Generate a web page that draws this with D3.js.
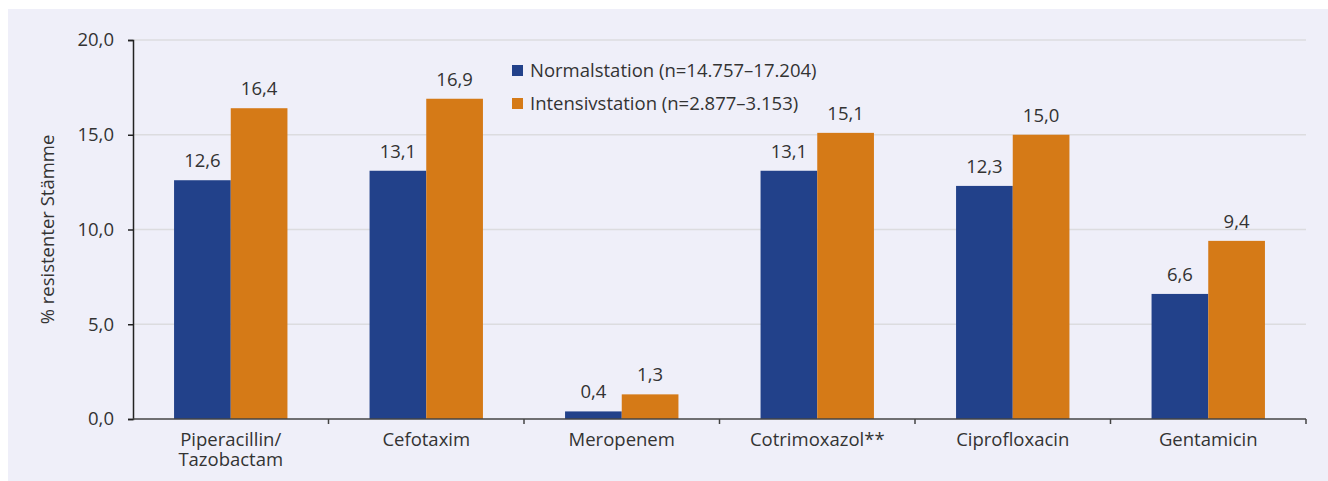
<!DOCTYPE html>
<html>
<head>
<meta charset="utf-8">
<script src="https://cdn.jsdelivr.net/npm/d3@7"></script>
<style>
  html, body { margin: 0; padding: 0; background: #ffffff; }
  svg { display: block; }
  text { font-family: "Open Sans", "Noto Sans", sans-serif; fill: #333333; }
</style>
</head>
<body>
<svg id="chart" width="1328" height="481"></svg>
<script>
// Resistance rates (%) per antibiotic, normal ward vs. intensive care
const categories = ["Piperacillin/\nTazobactam", "Cefotaxim", "Meropenem", "Cotrimoxazol**", "Ciprofloxacin", "Gentamicin"];
const normalstation = [12.6, 13.1, 0.4, 13.1, 12.3, 6.6];
const intensivstation = [16.4, 16.9, 1.3, 15.1, 15.0, 9.4];
const seriesNames = ["Normalstation (n=14.757–17.204)", "Intensivstation (n=2.877–3.153)"];
const seriesColors = ["#22418a", "#d57a17"];
const yTicks = [0, 5, 10, 15, 20];
const yTitle = "% resistenter Stämme";

const FS = 18.5;
const svg = d3.select("#chart");
const W = 1328, H = 481;
const margin = { left: 133, right: 22, top: 40, bottom: 62 };
const plotW = W - margin.left - margin.right;
const plotH = H - margin.top - margin.bottom;

// panel background
svg.append("rect").attr("x", 8).attr("y", 9).attr("width", W - 8).attr("height", H - 9).attr("fill", "#efeff9");

const g = svg.append("g").attr("transform", `translate(${margin.left},${margin.top})`);

const fmt = v => d3.format(".1f")(v).replace(".", ",");

const x0 = d3.scaleBand().domain(d3.range(categories.length)).range([0, plotW]).padding(0);
const x1 = d3.scaleBand().domain([0, 1]).range([x0.bandwidth() * 0.21, x0.bandwidth() * 0.79]).padding(0);
const y = d3.scaleLinear().domain([0, 20]).range([plotH, 0]);

// gridlines
g.append("g").selectAll("line").data(yTicks.filter(t => t > 0)).join("line")
  .attr("x1", 0).attr("x2", plotW)
  .attr("y1", d => y(d)).attr("y2", d => y(d))
  .attr("stroke", "#dcdcdf").attr("stroke-width", 1.5);

// bars
const rows = categories.map((c, i) => [normalstation[i], intensivstation[i]]);
const groups = g.append("g").selectAll("g").data(rows).join("g")
  .attr("transform", (d, i) => `translate(${x0(i)},0)`);
groups.selectAll("rect").data(d => d).join("rect")
  .attr("x", (d, j) => x1(j))
  .attr("width", x1.bandwidth())
  .attr("y", d => y(d))
  .attr("height", d => plotH - y(d))
  .attr("fill", (d, j) => seriesColors[j]);
groups.selectAll("text").data(d => d).join("text")
  .attr("x", (d, j) => x1(j) + x1.bandwidth() / 2)
  .attr("y", d => y(d) - 13)
  .attr("text-anchor", "middle")
  .attr("font-size", FS)
  .text(d => fmt(d));

// y axis
const yAxis = d3.axisLeft(y).tickValues(yTicks).tickSize(5).tickPadding(14).tickFormat(fmt);
const ya = g.append("g").call(yAxis);
ya.select(".domain").attr("stroke", "#222").attr("stroke-width", 1.5);
ya.selectAll(".tick line").attr("stroke", "#222").attr("stroke-width", 1.5);
ya.selectAll(".tick text").attr("font-size", FS).attr("fill", "#333").style("font-family", "'Open Sans', 'Noto Sans', sans-serif");

// x axis: baseline with ticks at category boundaries
const xa = g.append("g").attr("transform", `translate(0,${plotH})`);
xa.append("line").attr("x1", 0).attr("x2", plotW).attr("stroke", "#444").attr("stroke-width", 1.5);
xa.selectAll("line.tk").data(d3.range(1, categories.length + 1)).join("line")
  .attr("class", "tk")
  .attr("x1", i => i < categories.length ? x0(i) : plotW).attr("x2", i => i < categories.length ? x0(i) : plotW)
  .attr("y1", 0).attr("y2", 5)
  .attr("stroke", "#444").attr("stroke-width", 1.5);
categories.forEach((c, i) => {
  c.split("\n").forEach((line, k) => {
    xa.append("text")
      .attr("x", x0(i) + x0.bandwidth() / 2)
      .attr("y", 27 + k * 19.5)
      .attr("text-anchor", "middle")
      .attr("font-size", FS)
      .text(line);
  });
});

// y title
svg.append("text")
  .attr("transform", `translate(54,${margin.top + plotH / 2}) rotate(-90)`)
  .attr("text-anchor", "middle")
  .attr("font-size", FS)
  .text(yTitle);

// legend
const lg = svg.append("g").attr("transform", "translate(512,65)");
const li = lg.selectAll("g").data(seriesNames).join("g")
  .attr("transform", (d, i) => `translate(0,${i * 33})`);
li.append("rect").attr("width", 11).attr("height", 11).attr("fill", (d, i) => seriesColors[i]);
li.append("text").attr("x", 18).attr("y", 12).attr("font-size", FS).text(d => d);
</script>
</body>
</html>
